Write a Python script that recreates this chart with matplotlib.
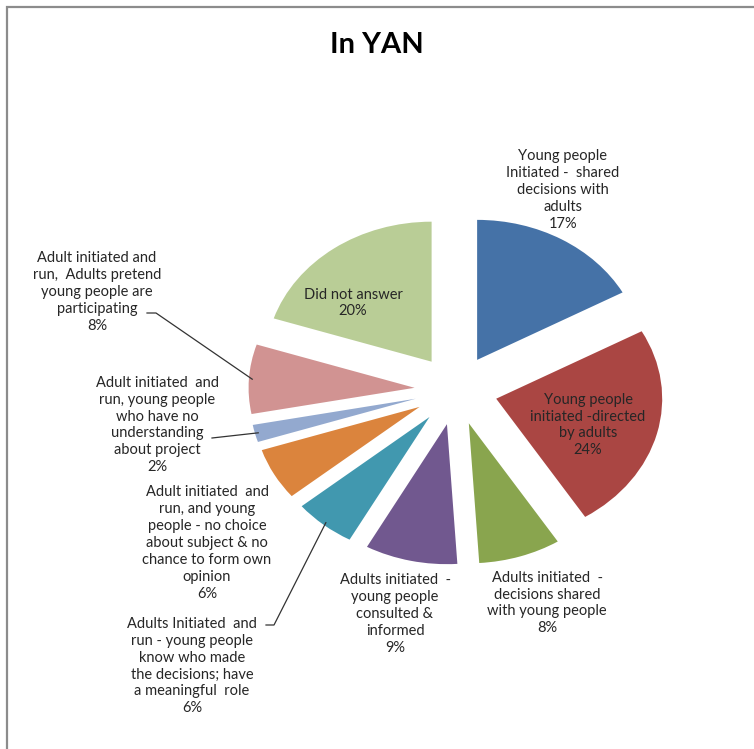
import numpy as np
import matplotlib.pyplot as plt

# survey answers, clockwise from 12 o'clock
categories = [
    "Young people\nInitiated -  shared\ndecisions with\nadults",
    "Young people\ninitiated -directed\nby adults",
    "Adults initiated  -\ndecisions shared\nwith young people",
    "Adults initiated  -\nyoung people\nconsulted &\ninformed",
    "Adults Initiated  and\nrun - young people\nknow who made\nthe decisions; have\na meaningful  role",
    "Adult initiated  and\nrun, and young\npeople - no choice\nabout subject & no\nchance to form own\nopinion",
    "Adult initiated  and\nrun, young people\nwho have no\nunderstanding\nabout project",
    "Adult initiated and\nrun,  Adults pretend\nyoung people are\nparticipating",
    "Did not answer",
]
percents = [17, 24, 8, 9, 6, 6, 2, 8, 20]
colors = ["#4572A7", "#AA4643", "#89A54E", "#71588F", "#4198AF",
          "#DB843D", "#93A9CF", "#D19392", "#B9CD96"]

W, H = 754, 749
R = 166
KY = 140 / R  # vertical squash of the pie


def P(x, y):
    # pixel position (origin top-left) -> data coords
    return x, (H - y) / KY


fig = plt.figure(figsize=(W / 100, H / 100), dpi=100)
ax = fig.add_axes([0, 0, 1, 1])

# chart frame
fx, fy = zip(P(7, H + 5), P(7, 7), P(W + 5, 7))
ax.plot(fx, fy, color="#8c8c8c", lw=1.6, solid_joinstyle="miter")

wedges, _ = ax.pie(percents, colors=colors, startangle=90, counterclock=False,
                   radius=R, center=P(456, 390), explode=[0.25 * R] * len(percents),
                   wedgeprops=dict(linewidth=0), frame=True)
ax.set_xlim(0, W)
ax.set_ylim(0, H / KY)
ax.set_aspect("auto")
ax.axis("off")

fig.text(377 / W, 1 - 45 / H, "In YAN", ha="center", va="center",
         fontsize=21, fontweight="bold", family="Lato", color="black")

# label centres in pixels
label_pos = [(563, 190), (588, 425), (547, 603), (395, 614), (192, 666),
             (207, 543), (157, 425), (97, 292), (353, 303)]

for name, pct, (lx, ly) in zip(categories, percents, label_pos):
    ax.text(*P(lx, ly), f"{name}\n{pct}%", ha="center", va="center",
            fontsize=10.5, family="Lato", color="#262626", linespacing=1.27)


def anchor(w, frac=0.98):
    # point on a wedge along its middle angle
    mid = np.deg2rad((w.theta1 + w.theta2) / 2)
    cx, cy = w.center
    return cx + frac * w.r * np.cos(mid), cy + frac * w.r * np.sin(mid)


# leader lines: (slice index, label-side points in pixels)
leaders = [(7, [(147, 313), (156, 313)]),
           (6, [(212, 438)]),
           (4, [(266, 625), (274, 625)])]
for i, pts in leaders:
    xs = [P(*p)[0] for p in pts]
    ys = [P(*p)[1] for p in pts]
    ax_, ay_ = anchor(wedges[i])
    ax.plot(xs + [ax_], ys + [ay_], color="#333333", lw=0.9)

fig.savefig("out.png", dpi=100)
